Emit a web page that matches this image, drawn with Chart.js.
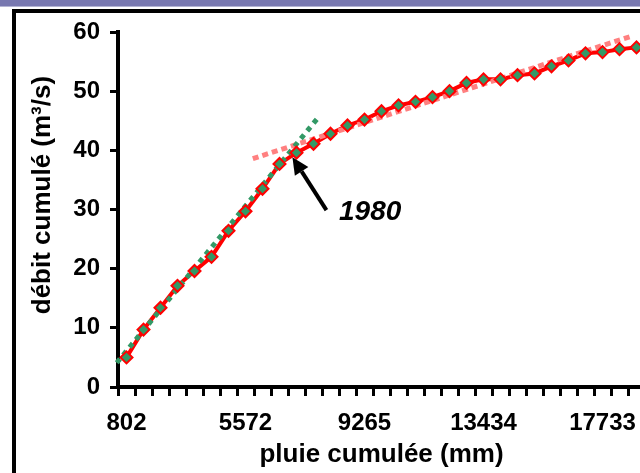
<!DOCTYPE html>
<html>
<head>
<meta charset="utf-8">
<script src="https://cdn.jsdelivr.net/npm/chart.js@4"></script>
<style>
  body { margin: 0; width: 640px; height: 473px; overflow: hidden; position: relative; background: #fff; }
  #bar { position: absolute; left: 0; top: 0; width: 640px; height: 6px; background: #7878b0; border-bottom: 1px solid #b4b4d4; }
  #frame { position: absolute; left: 12px; top: 9px; width: 700px; height: 600px; border-left: 4px solid #000; border-top: 4px solid #000; }
  #myChart { position: absolute; left: 0; top: 0; }
</style>
</head>
<body>
<div id="bar"></div>
<div id="frame"></div>
<canvas id="myChart" width="700" height="473"></canvas>
<script>
// x axis: one label every 7 categories, the other years are not readable
const tickLabels = ['802', '5572', '9265', '13434', '17733'];
const labelStep = 7;
// débit cumulé (m3/s)
const debit = [5.0, 9.7, 13.4, 17.1, 19.6, 22.0, 26.4, 29.7, 33.5, 37.7, 39.6, 41.1, 42.8, 44.2, 45.2, 46.6,
               47.6, 48.2, 49.0, 50.0, 51.4, 52.0, 52.0, 52.7, 53.0, 54.2, 55.2, 56.4, 56.6, 57.1, 57.4];
// trend lines (x = category index)
const trendAvantX = [-0.57, 11.35];
const trendAvantY = [4.1, 45.8];
const trendApresX = [7.43, 29.6];
const trendApresY = [38.6, 59.2];
// arrow to the break year
const arrowTail = [11.76, 29.9];
const arrowTip = [9.76, 38.85];
const arrowText = '1980';
const arrowTextPos = [12.5, 29.5];

const categories = debit.map((v, i) => (i % labelStep === 0 && tickLabels[i / labelStep]) ? tickLabels[i / labelStep] : '');
const toXY = (xs, ys) => xs.map((x, i) => ({ x: x, y: ys[i] }));

const fontFamily = '"Liberation Sans", Arial, sans-serif';

const arrowPlugin = {
    id: 'arrow1980',
    afterDatasetsDraw(chart) {
        const { ctx, scales } = chart;
        const xs = scales.xt, ys = scales.y;
        const x0 = xs.getPixelForValue(arrowTail[0]), y0 = ys.getPixelForValue(arrowTail[1]);
        const x1 = xs.getPixelForValue(arrowTip[0]), y1 = ys.getPixelForValue(arrowTip[1]);
        const ang = Math.atan2(y1 - y0, x1 - x0);
        const headLen = 17, headW = 8;
        const bx = x1 - headLen * Math.cos(ang), by = y1 - headLen * Math.sin(ang);
        ctx.save();
        ctx.strokeStyle = '#000';
        ctx.fillStyle = '#000';
        ctx.lineWidth = 4;
        ctx.beginPath();
        ctx.moveTo(x0, y0);
        ctx.lineTo(bx, by);
        ctx.stroke();
        ctx.beginPath();
        ctx.moveTo(x1, y1);
        ctx.lineTo(bx + headW * Math.sin(ang), by - headW * Math.cos(ang));
        ctx.lineTo(bx - headW * Math.sin(ang), by + headW * Math.cos(ang));
        ctx.closePath();
        ctx.fill();
        ctx.font = 'italic bold 28px ' + fontFamily;
        ctx.textAlign = 'left';
        ctx.textBaseline = 'middle';
        ctx.fillText(arrowText, xs.getPixelForValue(arrowTextPos[0]), ys.getPixelForValue(arrowTextPos[1]));
        ctx.restore();
    }
};

const ctx = document.getElementById('myChart').getContext('2d');
const myChart = new Chart(ctx, {
    type: 'line',
    data: {
        labels: categories,
        datasets: [{
            label: 'débit',
            data: debit,
            borderColor: '#ff0000',
            borderWidth: 4,
            pointRadius: 0,
            order: 3
        }, {
            label: 'tendance avant 1980',
            data: toXY(trendAvantX, trendAvantY),
            xAxisID: 'xt',
            borderColor: '#339966',
            borderWidth: 5,
            borderDash: [5, 5],
            pointRadius: 0,
            clip: false,
            order: 2
        }, {
            label: 'tendance après 1980',
            data: toXY(trendApresX, trendApresY),
            xAxisID: 'xt',
            borderColor: '#ff8080',
            borderWidth: 5,
            borderDash: [6, 4],
            pointRadius: 0,
            clip: false,
            order: 2
        }, {
            label: 'points',
            data: debit,
            showLine: false,
            pointStyle: 'rectRot',
            pointRadius: 6,
            pointBorderWidth: 2,
            pointBorderColor: '#ff0000',
            pointBackgroundColor: '#339966',
            order: 0
        }]
    },
    options: {
        responsive: false,
        animation: false,
        layout: { padding: { left: 27, right: 55, top: 32, bottom: 3 } },
        plugins: { legend: { display: false }, tooltip: { enabled: false } },
        scales: {
            x: {
                type: 'category',
                offset: true,
                grid: { offset: true, drawOnChartArea: false, tickLength: 9, color: '#000', lineWidth: 3 },
                border: { color: '#000', width: 4 },
                ticks: { autoSkip: false, maxRotation: 0, color: '#000', padding: 13, font: { family: fontFamily, size: 24, weight: 'bold' } },
                title: { display: true, text: 'pluie cumulée (mm)', color: '#000', padding: 0, font: { family: fontFamily, size: 26, weight: 'bold' } },
                afterFit: (s) => { s.height = 83; }
            },
            xt: {
                type: 'linear',
                display: false,
                min: -0.5,
                max: debit.length - 0.5
            },
            y: {
                min: 0,
                max: 60,
                grid: { drawOnChartArea: false, tickLength: 8, color: '#000', lineWidth: 3 },
                border: { color: '#000', width: 4 },
                ticks: { stepSize: 10, color: '#000', padding: 10, font: { family: fontFamily, size: 24, weight: 'bold' } },
                // leading spaces lift the title a little above the axis centre, as in the original
                title: { display: true, text: '    débit cumulé (m³/s)', color: '#000', padding: 0, font: { family: fontFamily, size: 26, weight: 'bold' } },
                afterFit: (s) => { s.width = 91; }
            }
        }
    },
    plugins: [arrowPlugin]
});
</script>
</body>
</html>
